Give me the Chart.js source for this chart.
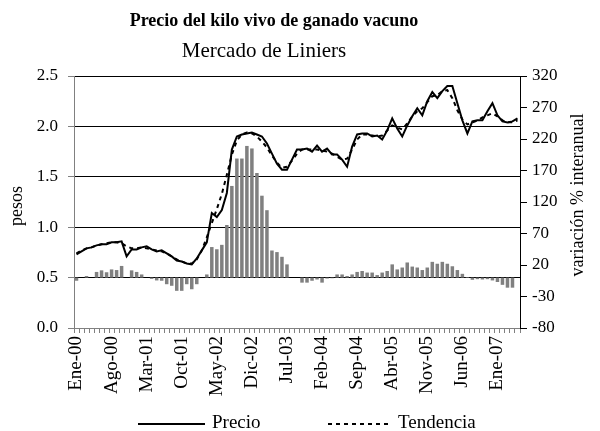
<!DOCTYPE html>
<html>
<head>
<meta charset="utf-8">
<script src="https://cdn.jsdelivr.net/npm/chart.js@4.4.1/dist/chart.umd.min.js"></script>
<style>
	html, body { margin: 0; padding: 0; background: #fff; }
</style>
</head>
<body>
<canvas id="grafico" width="600" height="431"></canvas>
<script>
const titulo = 'Precio del kilo vivo de ganado vacuno',
	subtitulo = 'Mercado de Liniers',
	tituloIzq = 'pesos',
	tituloDer = 'variación % interanual';

// meses Ene-00 .. May-07
const meses = ['Ene', 'Feb', 'Mar', 'Abr', 'May', 'Jun', 'Jul', 'Ago', 'Sep', 'Oct', 'Nov', 'Dic'];
const categorias = [];
for (let a = 0; a <= 7; a++) {
	for (let m = 0; m < 12; m++) {
		if (a === 7 && m > 4) break;
		categorias.push(`${meses[m]}-0${a}`);
	}
}

const precio = [
	0.73, 0.76, 0.79, 0.80, 0.82, 0.83, 0.83, 0.85, 0.85, 0.86, 0.71, 0.78,
	0.78, 0.80, 0.81, 0.78, 0.76, 0.77, 0.74, 0.71, 0.67, 0.66, 0.64, 0.63,
	0.69, 0.77, 0.85, 1.14, 1.10, 1.17, 1.34, 1.77, 1.90, 1.92, 1.93, 1.94,
	1.92, 1.90, 1.83, 1.73, 1.63, 1.57, 1.57, 1.67, 1.77, 1.77, 1.78, 1.75,
	1.81, 1.75, 1.78, 1.72, 1.72, 1.67, 1.60, 1.80, 1.92, 1.93, 1.93, 1.90,
	1.91, 1.87, 1.96, 2.08, 1.98, 1.90, 2.01, 2.10, 2.18, 2.11, 2.25, 2.34,
	2.28, 2.35, 2.40, 2.40, 2.23, 2.06, 1.93, 2.05, 2.06, 2.06, 2.15, 2.23,
	2.11, 2.05, 2.04, 2.05, 2.08,
];

const tendencia = [
	0.74, 0.77, 0.79, 0.80, 0.82, 0.83, 0.84, 0.85, 0.85, 0.84, 0.81, 0.79,
	0.79, 0.80, 0.79, 0.78, 0.77, 0.76, 0.74, 0.71, 0.68, 0.66, 0.64, 0.64,
	0.68, 0.77, 0.90, 1.04, 1.18, 1.33, 1.52, 1.72, 1.86, 1.92, 1.94, 1.93,
	1.90, 1.85, 1.79, 1.71, 1.64, 1.59, 1.60, 1.66, 1.73, 1.77, 1.77, 1.77,
	1.77, 1.76, 1.75, 1.73, 1.70, 1.67, 1.68, 1.77, 1.87, 1.92, 1.92, 1.91,
	1.90, 1.91, 1.96, 2.01, 1.99, 1.97, 2.03, 2.10, 2.15, 2.18, 2.24, 2.30,
	2.31, 2.35, 2.36, 2.28, 2.16, 2.07, 2.02, 2.04, 2.06, 2.09, 2.11, 2.13,
	2.10, 2.06, 2.04, 2.04, 2.06,
];

const variacion = [
	-5, 0, 2.5, 0, 9, 11.5, 8.5, 13, 12, 18.5, 0, 11.5,
	9, 5, 0, -2, -4.5, -5, -10.5, -13, -21, -21, -10.5, -18.5,
	-10.5, 0, 5, 48.5, 45, 52, 83.5, 145.5, 189, 189, 209, 205,
	166, 130, 107, 43, 40.5, 33, 21, 0, 0, -8, -8, -5,
	-3, -8, -1.5, -1, 5, 5, 2.5, 5, 9, 10.5, 8, 8,
	4, 8, 10.5, 21, 13, 16, 24, 17.5, 16, 12, 16, 25,
	22, 25, 22, 18, 12, 6, 1, -3.5, -2.5, -3, -2.5, -4.5,
	-7, -11.5, -16, -16, null,
];

const fuente = '"Liberation Serif", "Times New Roman", serif';

const textos = {
	id: 'textos',
	afterDraw(chart) {
		const ctx = chart.ctx;
		ctx.save();
		ctx.fillStyle = '#000';
		ctx.strokeStyle = '#000';
		ctx.textBaseline = 'middle';
		ctx.textAlign = 'center';
		ctx.font = `bold 18px ${fuente}`;
		ctx.fillText(titulo, 274, 21);
		ctx.font = `21px ${fuente}`;
		ctx.fillText(subtitulo, 264, 51);

		ctx.font = `18px ${fuente}`;
		ctx.save();
		ctx.translate(17, 206);
		ctx.rotate(-Math.PI / 2);
		ctx.fillText(tituloIzq, 0, 0);
		ctx.restore();
		ctx.save();
		ctx.translate(578, 195);
		ctx.rotate(-Math.PI / 2);
		ctx.fillText(tituloDer, 0, 0);
		ctx.restore();

		// leyenda
		ctx.lineWidth = 2;
		ctx.beginPath();
		ctx.moveTo(138, 424);
		ctx.lineTo(205, 424);
		ctx.stroke();
		ctx.setLineDash([4, 4]);
		ctx.beginPath();
		ctx.moveTo(328, 424);
		ctx.lineTo(392, 424);
		ctx.stroke();
		ctx.setLineDash([]);
		ctx.textAlign = 'left';
		ctx.font = `19px ${fuente}`;
		ctx.fillText('Precio', 212, 423);
		ctx.fillText('Tendencia', 398, 423);
		ctx.restore();
	},
};

new Chart(document.getElementById('grafico'), {
	type: 'bar',
	data: {
		labels: categorias,
		datasets: [
			{
				type: 'line',
				label: 'Precio',
				data: precio,
				yAxisID: 'y',
				borderColor: '#000',
				borderWidth: 2,
				pointRadius: 0,
				tension: 0,
				order: 1,
			},
			{
				type: 'line',
				label: 'Tendencia',
				data: tendencia,
				yAxisID: 'y',
				borderColor: '#000',
				borderWidth: 2,
				borderDash: [4, 4],
				pointRadius: 0,
				tension: 0,
				order: 2,
			},
			{
				type: 'bar',
				label: 'Variación % interanual',
				data: variacion,
				yAxisID: 'y1',
				backgroundColor: '#808080',
				borderWidth: 0,
				categoryPercentage: 1,
				barPercentage: 0.7,
				order: 3,
			},
		],
	},
	options: {
		responsive: false,
		animation: false,
		devicePixelRatio: 1,
		layout: { padding: { top: 76, bottom: 25, left: 0, right: 0 } },
		plugins: {
			legend: { display: false },
			title: { display: false },
			tooltip: { enabled: false },
		},
		scales: {
			x: {
				type: 'category',
				offset: true,
				afterFit: (s) => { s.height = 78; },
				grid: {
					offset: true,
					drawOnChartArea: false,
					drawTicks: true,
					tickLength: 5,
					tickColor: '#808080',
				},
				border: { color: '#808080', width: 1 },
				ticks: {
					autoSkip: false,
					maxRotation: 90,
					minRotation: 90,
					padding: 3,
					color: '#000',
					font: { family: fuente, size: 19 },
					callback: (v, i) => (i % 7 === 0 ? categorias[i] : ''),
				},
			},
			y: {
				position: 'left',
				min: 0,
				max: 2.5,
				afterFit: (s) => { s.width = 74; },
				grid: {
					color: (c) => (c.tick.value === 0 ? 'rgba(0,0,0,0)' : '#000'),
					tickColor: '#808080',
					tickLength: 6,
				},
				border: { color: '#808080', width: 1 },
				ticks: {
					stepSize: 0.5,
					padding: 10,
					color: '#000',
					font: { family: fuente, size: 17 },
					callback: (v) => v.toFixed(1),
				},
			},
			y1: {
				position: 'right',
				min: -80,
				max: 320,
				afterFit: (s) => { s.width = 80; },
				grid: {
					drawOnChartArea: false,
					tickColor: '#000',
					tickLength: 7,
				},
				border: { color: '#000', width: 1 },
				ticks: {
					stepSize: 50,
					padding: 5,
					color: '#000',
					font: { family: fuente, size: 17 },
				},
			},
		},
	},
	plugins: [textos],
});
</script>
</body>
</html>
